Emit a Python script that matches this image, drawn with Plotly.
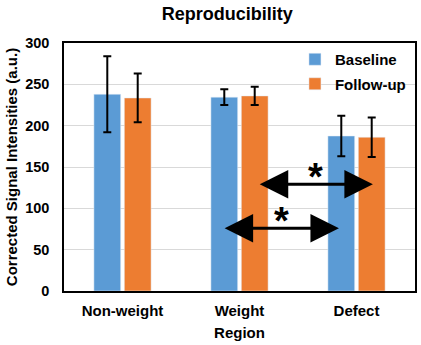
import plotly.graph_objects as go

categories = ["Non-weight", "Weight", "Defect"]
baseline = [238, 234.5, 187.5]
baseline_err = [46, 9.5, 24.5]
followup = [233.5, 236, 186]
followup_err = [29.5, 11, 24]
y_ticks = [0, 50, 100, 150, 200, 250, 300]

# significance arrows: (x_start, x_end, y)
sig_arrows = [(1.16, 2.14, 129), (0.86, 1.85, 76)]
sig_stars = [(1.65, 138), (1.36, 85)]

FONT = "Liberation Sans, Arial, sans-serif"

fig = go.Figure()
fig.add_trace(go.Bar(
    x=categories, y=baseline, name="<b>Baseline</b>", marker_color="#5B9BD5", legendgroup="a",
    error_y=dict(type="data", array=baseline_err, color="black", thickness=2, width=4),
))
fig.add_trace(go.Bar(
    x=categories, y=followup, name="<b>Follow-up</b>", marker_color="#ED7D31", legendgroup="b",
    error_y=dict(type="data", array=followup_err, color="black", thickness=2, width=4),
))

for x0, x1, yv in sig_arrows:
    fig.add_annotation(
        x=x1, y=yv, ax=x0, ay=yv, xref="x", yref="y", axref="x", ayref="y",
        showarrow=True, arrowhead=2, startarrowhead=2, arrowside="end+start",
        arrowwidth=3, arrowsize=1.9, startarrowsize=1.9, arrowcolor="black", text="",
    )
for xs, ys in sig_stars:
    fig.add_annotation(
        x=xs, y=ys, xref="x", yref="y", text="<b>*</b>", showarrow=False,
        font=dict(size=38, color="black", family=FONT),
    )

fig.update_layout(
    width=421, height=345,
    margin=dict(l=64, r=6, t=43, b=54, autoexpand=False),
    paper_bgcolor="white", plot_bgcolor="white",
    title=dict(text="<b>Reproducibility</b>", x=0.54, xanchor="center", y=0.961, yanchor="middle",
               font=dict(size=18, color="black", family=FONT)),
    barmode="group", bargap=0.48, bargroupgap=0.12,
    font=dict(family=FONT, color="black", size=15),
    legend=dict(x=0.658, y=1.0, xanchor="left", yanchor="top", bgcolor="rgba(0,0,0,0)",
                font=dict(size=15, family=FONT), itemwidth=30, tracegroupgap=2),
    showlegend=True,
)
fig.update_xaxes(
    title=dict(text="<b>Region</b>", font=dict(size=15, family=FONT), standoff=10),
    tickvals=categories, ticktext=[f"<b>{c}</b>" for c in categories],
    showline=True, linecolor="black", linewidth=1.5, mirror=True, ticks="",
    tickfont=dict(size=15), ticklabelstandoff=5, automargin=False,
)
fig.update_yaxes(
    title=dict(text="<b>Corrected Signal Intensities (a.u.)</b>", font=dict(size=15, family=FONT), standoff=4),
    range=[0, 300], tickvals=y_ticks, ticktext=[f"<b>{v}</b>" for v in y_ticks],
    showgrid=True, gridcolor="#D9D9D9", gridwidth=1, zeroline=False,
    showline=True, linecolor="black", linewidth=1.5, mirror=True, ticks="",
    tickfont=dict(size=14.5), ticklabelstandoff=10, automargin=False,
)

fig.write_html("out.html", config={"displayModeBar": False},
               post_script="document.body.style.margin='0';document.body.style.padding='0';")
